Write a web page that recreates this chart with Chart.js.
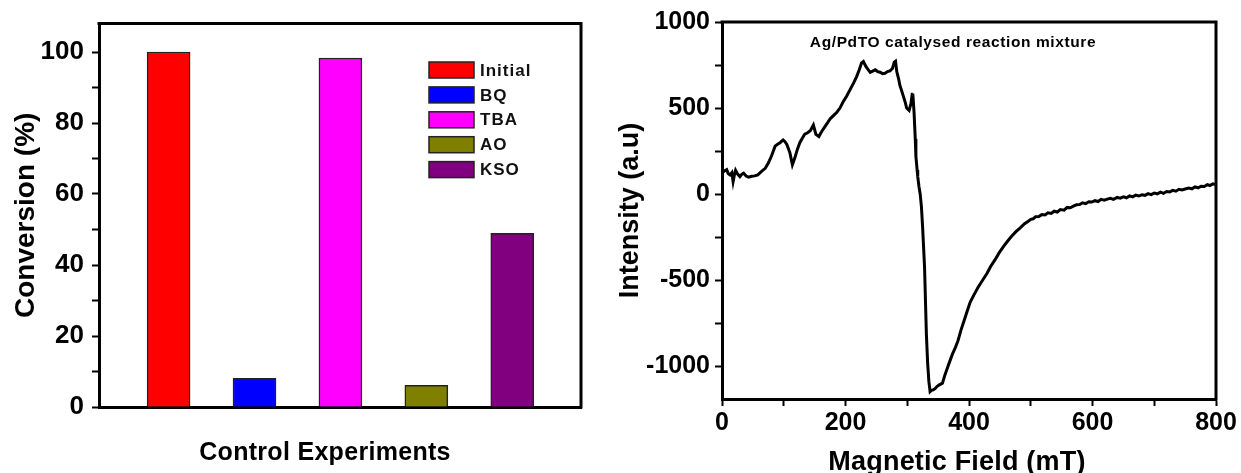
<!DOCTYPE html>
<html>
<head>
<meta charset="utf-8">
<script src="https://cdn.jsdelivr.net/npm/chart.js@4.4.1/dist/chart.umd.min.js"></script>
<style>
  html, body { margin: 0; padding: 0; background: #fff; overflow: hidden; }
  #wrap { position: relative; width: 1241px; height: 473px; }
  canvas { position: absolute; top: 0; }
  #barCanvas { left: 0; }
  #eprCanvas { left: 590px; }
</style>
</head>
<body>
<div id="wrap">
  <canvas id="barCanvas" width="600" height="473"></canvas>
  <canvas id="eprCanvas" width="651" height="473"></canvas>
</div>
<script>
// ── Control experiments ──
const experiments = ['Initial', 'BQ', 'TBA', 'AO', 'KSO'];
const conversion = [100, 8.1, 98.3, 6.1, 48.9];
const barColors = ['#ff0000', '#0000ff', '#ff00ff', '#808000', '#800080'];
const conversionTicks = [0, 20, 40, 60, 80, 100];
const conversionMinor = [10, 30, 50, 70, 90];

// ── EPR spectrum ──
const fieldMT = [
  0, 4, 7.6, 10, 13, 16, 18, 20, 22, 25, 29, 32, 35, 39, 43, 48, 53, 58, 64, 70,
  75, 80, 86, 90, 94, 99, 102, 105, 110, 114, 118, 122, 126, 130, 134, 138, 143, 148, 152, 157,
  160, 164, 170, 175, 180, 186, 191, 196, 202, 207, 213, 218, 222, 226, 229, 233, 237, 240, 244, 248,
  252, 256, 260, 264, 268, 272, 276, 279, 281, 283, 286, 288, 291, 294, 297, 299, 303, 306, 308, 309,
  311, 313, 314, 316, 317, 319, 321, 323, 325, 328, 331, 333, 335, 337, 339, 342, 345, 348, 352, 357,
  361, 365, 369, 373, 378, 382, 387, 392, 397, 402, 408, 415, 422, 429, 435, 442, 449, 456, 462, 469,
  476, 483, 490, 496, 500, 504, 508, 513, 518, 523, 528, 533, 538, 543, 548, 554, 559, 564, 569, 574,
  579, 584, 589, 594, 599, 604, 609, 614, 619, 624, 629, 634, 640, 645, 650, 655, 660, 665, 670, 675,
  680, 685, 690, 695, 700, 705, 710, 715, 720, 725, 730, 735, 740, 745, 750, 756, 761, 766, 771, 776,
  781, 786, 790, 795, 800
];
const intensity = [
  122, 135, 142, 120, 112, 125, 73, 110, 138, 118, 102, 115, 122, 105, 99, 104, 106, 112, 132, 150,
  181, 220, 279, 290, 299, 315, 305, 289, 240, 171, 211, 260, 299, 325, 348, 355, 368, 401, 348, 335,
  355, 378, 410, 437, 455, 476, 500, 535, 570, 604, 645, 683, 720, 762, 770, 742, 722, 708, 715, 722,
  712, 708, 700, 702, 712, 716, 730, 767, 772, 712, 670, 633, 600, 565, 530, 500, 486, 525, 580, 584,
  476, 320, 220, 140, 102, 43, 0, -75, -200, -422, -814, -980, -1088, -1147, -1140, -1137, -1130, -1118, -1108, -1098,
  -1050, -1010, -970, -931, -890, -853, -790, -735, -680, -627, -585, -539, -500, -461, -420, -382, -340, -304, -275, -245,
  -218, -196, -172, -157, -146, -143, -131, -130, -119, -121, -108, -112, -99, -104, -90, -93, -77, -79, -70, -62,
  -60, -50, -55, -44, -46, -38, -43, -30, -35, -29, -24, -30, -19, -23, -16, -21, -10, -16, -6, -11,
  -4, -7, 3, -3, 6, 2, 12, 5, 15, 13, 22, 17, 28, 24, 30, 35, 31, 42, 37, 46,
  44, 55, 50, 60, 54
];
const fieldTicks = [0, 200, 400, 600, 800];
const fieldMinor = [100, 300, 500, 700];
const intensityTicks = [-1000, -500, 0, 500, 1000];
const intensityMinor = [-750, -250, 250, 750];

Chart.defaults.font.family = "'Liberation Sans', Arial, sans-serif";
Chart.defaults.font.weight = 'bold';
Chart.defaults.color = '#000';
Chart.defaults.animation = false;

// top + right edges of the plot box (left/bottom come from the axis borders)
const frame = {
  id: 'frame',
  afterDraw(chart) {
    const { ctx, chartArea: a } = chart;
    ctx.save();
    ctx.strokeStyle = '#000';
    ctx.lineWidth = 3;
    ctx.beginPath();
    ctx.moveTo(a.left - 1.5, a.top);
    ctx.lineTo(a.right, a.top);
    ctx.lineTo(a.right, a.bottom + 1.5);
    ctx.stroke();
    ctx.restore();
  }
};

// free text: x-axis captions and the panel note
const captions = {
  id: 'captions',
  afterDraw(chart, args, opts) {
    const ctx = chart.ctx;
    ctx.save();
    ctx.fillStyle = '#000';
    ctx.textAlign = 'center';
    ctx.textBaseline = 'alphabetic';
    for (const c of opts.items || []) {
      ctx.font = `bold ${c.size}px 'Liberation Sans', Arial, sans-serif`;
      ctx.letterSpacing = (c.spacing || 0) + 'px';
      ctx.fillText(c.text, c.x, c.y);
    }
    ctx.restore();
  }
};

// legend boxes in the upper right of the bar panel
const boxLegend = {
  id: 'boxLegend',
  afterDraw(chart) {
    const ctx = chart.ctx;
    ctx.save();
    ctx.font = "bold 17px 'Liberation Sans', Arial, sans-serif";
    ctx.letterSpacing = '1px';
    ctx.textBaseline = 'middle';
    experiments.forEach((name, i) => {
      const cy = 70 + i * 24.9;
      ctx.fillStyle = barColors[i];
      ctx.fillRect(429, cy - 8, 45, 16);
      ctx.strokeStyle = '#222';
      ctx.lineWidth = 1.5;
      ctx.strokeRect(429, cy - 8, 45, 16);
      ctx.fillStyle = '#111';
      ctx.fillText(name, 480, cy + 1);
    });
    ctx.restore();
  }
};

// major + minor tick list, labels only on the majors
const setTicks = (major, minor) => s => {
  s.ticks = major.concat(minor).sort((a, b) => a - b).map(v => ({ value: v }));
};
const majorLabel = major => v => major.includes(v) ? v : '';

const tickGrid = { display: true, drawOnChartArea: false, drawTicks: true, tickLength: 7, tickWidth: 2, tickColor: '#000' };
const axisBorder = { display: true, color: '#000', width: 3 };

new Chart(document.getElementById('barCanvas'), {
  type: 'bar',
  data: {
    datasets: [{
      data: experiments.map((_, i) => ({ x: i + 1, y: conversion[i] })),
      backgroundColor: barColors,
      borderColor: '#222',
      borderWidth: 1.5,
      barThickness: 43
    }]
  },
  options: {
    responsive: false,
    layout: { padding: { top: 16, right: 19, left: 0, bottom: 0 } },
    plugins: {
      legend: { display: false },
      tooltip: { enabled: false },
      captions: { items: [{ text: 'Control Experiments', x: 325, y: 460, size: 25, spacing: 0.3 }] }
    },
    scales: {
      x: {
        type: 'linear', min: 0.19, max: 5.8, offset: false,
        grid: { display: false },
        ticks: { display: false },
        border: axisBorder,
        afterFit: s => { s.height = 66; }
      },
      y: {
        min: 0, max: 108,
        afterBuildTicks: setTicks(conversionTicks, conversionMinor),
        ticks: {
          padding: 8, autoSkip: false,
          font: { size: 26, weight: 'bold' },
          callback: majorLabel(conversionTicks)
        },
        grid: tickGrid,
        border: axisBorder,
        title: { display: true, text: 'Conversion (%)', font: { size: 28, weight: 'bold' }, padding: { top: 9, bottom: 0 } },
        afterFit: s => { s.width = 99; }
      }
    }
  },
  plugins: [frame, captions, boxLegend]
});

new Chart(document.getElementById('eprCanvas'), {
  type: 'line',
  data: {
    datasets: [{
      data: fieldMT.map((f, i) => ({ x: f, y: intensity[i] })),
      borderColor: '#000',
      borderWidth: 3,
      pointRadius: 0,
      tension: 0,
      fill: false
    }]
  },
  options: {
    responsive: false,
    layout: { padding: { top: 22, right: 25, left: 0, bottom: 0 } },
    plugins: {
      legend: { display: false },
      tooltip: { enabled: false },
      captions: {
        items: [
          { text: 'Magnetic Field (mT)', x: 367, y: 470, size: 27, spacing: 0.2 },
          { text: 'Ag/PdTO catalysed reaction mixture', x: 363, y: 47, size: 15.5, spacing: 0.6 }
        ]
      }
    },
    scales: {
      x: {
        type: 'linear', min: 0, max: 800,
        afterBuildTicks: setTicks(fieldTicks, fieldMinor),
        ticks: {
          padding: 2, autoSkip: false, maxRotation: 0,
          font: { size: 25, weight: 'bold' },
          callback: majorLabel(fieldTicks)
        },
        grid: tickGrid,
        border: axisBorder,
        afterFit: s => { s.height = 74; }
      },
      y: {
        min: -1190, max: 1000,
        afterBuildTicks: setTicks(intensityTicks, intensityMinor),
        ticks: {
          padding: 5, autoSkip: false,
          font: { size: 25, weight: 'bold' },
          callback: majorLabel(intensityTicks)
        },
        grid: tickGrid,
        border: axisBorder,
        title: { display: true, text: 'Intensity (a.u)', font: { size: 27, weight: 'bold' }, padding: { top: 24, bottom: 0 } },
        afterFit: s => { s.width = 132; }
      }
    }
  },
  plugins: [frame, captions]
});
</script>
</body>
</html>
